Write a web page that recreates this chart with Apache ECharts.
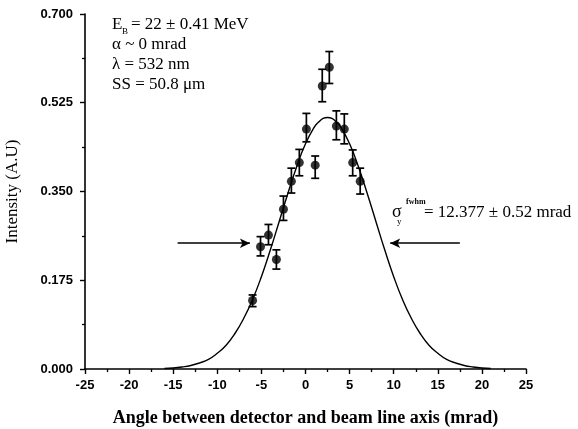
<!DOCTYPE html>
<html>
<head>
<meta charset="utf-8">
<script src="https://cdn.jsdelivr.net/npm/echarts@6/dist/echarts.min.js"></script>
<style>
html,body{margin:0;padding:0;background:#fff;}
#c{width:578px;height:429px;}
</style>
</head>
<body>
<div id="c"></div>
<script>
// Measured data points (angle in mrad, intensity A.U.)
const pointX = [-6.0, -5.1, -4.2, -3.3, -2.5, -1.6, -0.7, 0.1, 1.1, 1.9, 2.7, 3.5, 4.4, 5.35, 6.2];
const pointY = [0.135, 0.241, 0.264, 0.216, 0.315, 0.370, 0.407, 0.473, 0.402, 0.558, 0.595, 0.479, 0.473, 0.407, 0.370];
const errLow = [0.123, 0.223, 0.245, 0.197, 0.293, 0.347, 0.381, 0.448, 0.376, 0.527, 0.563, 0.452, 0.444, 0.381, 0.345];
const errHigh = [0.146, 0.261, 0.285, 0.235, 0.341, 0.396, 0.433, 0.504, 0.420, 0.591, 0.626, 0.509, 0.503, 0.432, 0.396];

// Fitted curve
const curveX = [-16, -15, -14, -13, -12, -11, -10, -9, -8, -7, -6, -5, -4, -3, -2, -1, 0, 1, 1.5, 2, 2.5, 3, 3.5, 4, 5, 6, 7, 8, 9, 10, 11, 12, 13, 14, 15, 16, 17, 18, 19, 20, 21];
const curveY = [0.001, 0.002, 0.004, 0.007, 0.012, 0.019, 0.031, 0.047, 0.070, 0.100, 0.137, 0.182, 0.234, 0.290, 0.346, 0.399, 0.444, 0.477, 0.487, 0.494, 0.496, 0.494, 0.487, 0.477, 0.444, 0.399, 0.346, 0.290, 0.234, 0.182, 0.137, 0.100, 0.070, 0.047, 0.031, 0.019, 0.012, 0.007, 0.004, 0.002, 0.001];

// FWHM arrows (x from, x to) at half-maximum level
const halfMax = 0.248;
const arrowLeft = [-14.5, -6.3];
const arrowRight = [17.5, 9.6];

// Tick labels
const xTicks = [-25, -20, -15, -10, -5, 0, 5, 10, 15, 20, 25];
const yTicks = ['0.000', '0.175', '0.350', '0.525', '0.700'];

const chart = echarts.init(document.getElementById('c'), null, {renderer: 'canvas'});

const serif = '"Liberation Serif", "Times New Roman", serif';
const sans = '"Liberation Sans", Arial, sans-serif';

const option = {
  animation: false,
  backgroundColor: '#ffffff',
  grid: {left: 85, right: 52, top: 14, bottom: 60, containLabel: false, outerBoundsMode: 'none'},
  xAxis: {
    type: 'value', min: xTicks[0], max: xTicks[xTicks.length - 1], interval: 5,
    name: 'Angle between detector and beam line axis (mrad)',
    nameLocation: 'middle', nameGap: 40,
    nameTextStyle: {fontFamily: serif, fontSize: 18, color: '#000', fontWeight: 'bold'},
    axisLine: {show: true, onZero: false, lineStyle: {color: '#000', width: 1.6}},
    axisTick: {show: true, inside: false, length: 5, lineStyle: {color: '#000', width: 1.4}},
    minorTick: {show: true, splitNumber: 2, length: 3, lineStyle: {color: '#000', width: 1.3}},
    splitLine: {show: false},
    axisLabel: {fontFamily: sans, fontSize: 13, fontWeight: 'bold', color: '#000', margin: 10,
      formatter: v => String(v)}
  },
  yAxis: {
    type: 'value', min: 0, max: 0.7, interval: 0.175,
    name: 'Intensity (A.U)',
    nameLocation: 'middle', nameGap: 64, nameRotate: 90,
    nameTextStyle: {fontFamily: serif, fontSize: 17, color: '#000'},
    axisLine: {show: true, onZero: false, lineStyle: {color: '#000', width: 1.6}},
    axisTick: {show: true, inside: false, length: 5, lineStyle: {color: '#000', width: 1.4}},
    minorTick: {show: true, splitNumber: 2, length: 3, lineStyle: {color: '#000', width: 1.3}},
    splitLine: {show: false},
    axisLabel: {fontFamily: sans, fontSize: 13, fontWeight: 'bold', color: '#000', margin: 12,
      formatter: (v) => yTicks[Math.round(v / 0.175)] || v.toFixed(3)}
  },
  series: [
    {
      type: 'line', data: curveX.map((x, i) => [x, curveY[i]]),
      smooth: true, showSymbol: false, symbol: 'none',
      lineStyle: {color: '#000', width: 1.4}, z: 2,
      markLine: {
        silent: true, symbol: ['none', 'arrow'], symbolSize: [7, 10],
        label: {show: false},
        lineStyle: {color: '#000', width: 1.7, type: 'solid'},
        data: [
          [{coord: [arrowLeft[0], halfMax]}, {coord: [arrowLeft[1], halfMax]}],
          [{coord: [arrowRight[0], halfMax]}, {coord: [arrowRight[1], halfMax]}]
        ]
      }
    },
    {
      type: 'custom', z: 3,
      data: pointX.map((x, i) => [x, errLow[i], errHigh[i]]),
      renderItem: function (params, api) {
        const x = api.value(0);
        const top = api.coord([x, api.value(2)]);
        const bot = api.coord([x, api.value(1)]);
        const w = 4;
        const st = {stroke: '#000', lineWidth: 1.7};
        return {
          type: 'group',
          children: [
            {type: 'line', shape: {x1: top[0], y1: top[1], x2: bot[0], y2: bot[1]}, style: st},
            {type: 'line', shape: {x1: top[0] - w, y1: top[1], x2: top[0] + w, y2: top[1]}, style: st},
            {type: 'line', shape: {x1: bot[0] - w, y1: bot[1], x2: bot[0] + w, y2: bot[1]}, style: st}
          ]
        };
      }
    },
    {
      type: 'scatter', z: 4,
      data: pointX.map((x, i) => [x, pointY[i]]),
      symbol: 'circle', symbolSize: 9,
      itemStyle: {color: '#000'}
    }
  ],
  graphic: [
    {type: 'text', left: 112, top: 16, style: {text: 'E', font: '17px ' + serif, fill: '#000'}},
    {type: 'text', left: 122, top: 27, style: {text: 'B', font: '9px ' + serif, fill: '#000'}},
    {type: 'text', left: 131, top: 16, style: {text: '= 22 ± 0.41 MeV', font: '17px ' + serif, fill: '#000'}},
    {type: 'text', left: 112, top: 36, style: {text: 'α ~ 0 mrad', font: '17px ' + serif, fill: '#000'}},
    {type: 'text', left: 112, top: 56, style: {text: 'λ = 532 nm', font: '17px ' + serif, fill: '#000'}},
    {type: 'text', left: 112, top: 76, style: {text: 'SS = 50.8 μm', font: '17px ' + serif, fill: '#000'}},
    {type: 'text', left: 392, top: 203, style: {text: 'σ', font: '18px ' + serif, fill: '#000'}},
    {type: 'text', left: 397, top: 217, style: {text: 'y', font: '9px ' + serif, fill: '#000'}},
    {type: 'text', left: 406, top: 198, style: {text: 'fwhm', font: 'bold 8px ' + serif, fill: '#000'}},
    {type: 'text', left: 424, top: 204, style: {text: '= 12.377 ± 0.52 mrad', font: '17px ' + serif, fill: '#000'}}
  ]
};
chart.setOption(option);
</script>
</body>
</html>
